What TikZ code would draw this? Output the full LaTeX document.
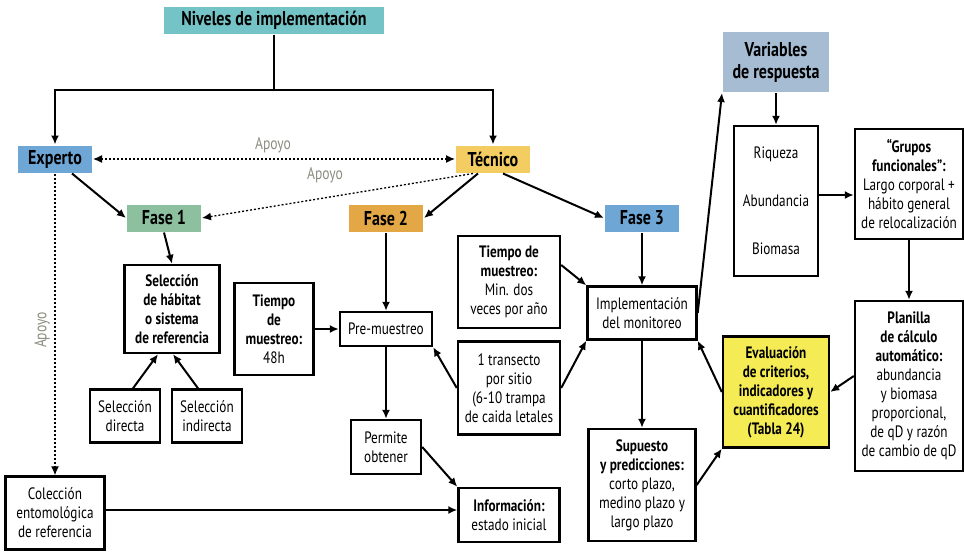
\documentclass[tikz,border=0pt]{standalone}
\usepackage{fontspec}
\setmainfont{PT Sans}[FakeStretch=0.8]
\usetikzlibrary{arrows.meta}
\definecolor{cniv}{HTML}{74C3C6}
\definecolor{cexp}{HTML}{6EA6D5}
\definecolor{ctec}{HTML}{F3CD62}
\definecolor{cfuno}{HTML}{8DC09E}
\definecolor{cfdos}{HTML}{E3A745}
\definecolor{cvar}{HTML}{A5BCD3}
\definecolor{ceva}{HTML}{F4EB55}
\definecolor{capoyo}{HTML}{8C8C80}

\begin{document}
\begin{tikzpicture}[x=1pt,y=-1pt,line width=2pt,>={Latex[length=9pt,width=8pt]},
    punteado/.style={line width=1.3pt,dash pattern=on 2pt off 2pt}]%
\useasboundingbox (0,0) rectangle (964,552);
                    \begin{scope}
                        \tikzstyle{every node}=[inner sep=0pt,align=center,font=\bfseries\fontsize{20}{22}\selectfont];%%
                        \node[fill=cniv,minimum width=220pt,minimum height=27pt] (niv) at (274,20) {Niveles de implementación}; %%
                        \node[fill=cexp,minimum width=74pt,minimum height=27pt] (exp) at (55,159) {Experto}; %%
                        \node[fill=ctec,minimum width=74pt,minimum height=27pt] (tec) at (493,159) {Técnico}; %%
                        \node[fill=cfuno,minimum width=74pt,minimum height=27pt] (f1) at (164,218) {Fase 1}; %%
                        \node[fill=cfdos,minimum width=74pt,minimum height=27pt] (f2) at (386,218) {Fase 2}; %%
                        \node[fill=cexp,minimum width=74pt,minimum height=27pt] (f3) at (642,218) {Fase 3}; %%
                        \node[fill=cvar,minimum width=106pt,minimum height=60pt,font=\bfseries\fontsize{20}{22}\selectfont] (var) at (776,62) {Variables\\de respuesta}; %%
                    \end{scope}
                    \begin{scope}
                        \tikzstyle{every node}=[draw,line width=2.4pt,fill=white,inner sep=0pt,align=center,font=\fontsize{16.5}{19}\selectfont];%%
                        \node[minimum width=84pt,minimum height=150pt] (rab) at (776,201) {Riqueza\\[29pt]Abundancia\\[29pt]Biomasa}; %%
                        \node[minimum width=108pt,minimum height=110pt] (gru) at (909,184) {\textbf{“Grupos}\\\textbf{funcionales”:}\\Largo corporal +\\hábito general\\de relocalización}; %%
                        \node[minimum width=95pt,minimum height=88pt] (sel) at (172,309) {\textbf{Selección}\\\textbf{de hábitat}\\\textbf{o sistema}\\\textbf{de referencia}}; %%
                        \node[minimum width=70pt,minimum height=53pt] (sdir) at (125,416) {Selección\\directa}; %%
                        \node[minimum width=70pt,minimum height=53pt] (sind) at (207,416) {Selección\\indirecta}; %%
                        \node[minimum width=79pt,minimum height=92pt] (t48) at (274,329) {\textbf{Tiempo}\\\textbf{de}\\\textbf{muestreo:}\\48h}; %%
                        \node[minimum width=92pt,minimum height=34pt] (pre) at (386,329) {Pre-muestreo}; %%
                        \node[minimum width=70pt,minimum height=54pt] (per) at (386,447) {Permite\\obtener}; %%
                        \node[minimum width=99pt,minimum height=73pt] (col) at (55,513) {Colección\\entomológica\\de referencia}; %%
                        \node[minimum width=101pt,minimum height=54pt] (inf) at (509,515) {\textbf{Información:}\\estado inicial}; %%
                        \node[minimum width=102pt,minimum height=92pt] (tmin) at (509,282) {\textbf{Tiempo de}\\\textbf{muestreo:}\\Min. dos\\veces por año}; %%
                        \node[minimum width=102pt,minimum height=93pt] (tra) at (509,388) {1 transecto\\por sitio\\(6-10 trampa\\de caida letales}; %%
                        \node[minimum width=109pt,minimum height=53pt] (imp) at (642,313) {Implementación\\del monitoreo}; %%
                        \node[minimum width=107pt,minimum height=112pt] (sup) at (642,485) {\textbf{Supuesto}\\\textbf{y predicciones:}\\corto plazo,\\medino plazo y\\largo plazo}; %%
                        \node[fill=ceva,minimum width=106pt,minimum height=111pt,font=\bfseries\fontsize{16.5}{19}\selectfont] (eva) at (776,392) {Evaluación\\de criterios,\\indicadores y\\cuantificadores\\(Tabla 24)}; %%
                        \node[minimum width=108pt,minimum height=170pt] (pla) at (909,386) {\textbf{Planilla}\\\textbf{de cálculo}\\\textbf{automático:}\\abundancia\\y biomasa\\proporcional,\\de qD y razón\\de cambio de qD}; %%
                    \end{scope}
                    \begin{scope}
                        \tikzstyle{every node}=[text=capoyo,inner sep=0pt,font=\fontsize{17}{19}\selectfont];%%
                        \node (ap1) at (273,145) {Apoyo}; %%
                        \node (ap2) at (325,175) {Apoyo}; %%
                        \node[rotate=90] (ap3) at (42,330) {Apoyo}; %%
                    \end{scope}
                        \draw[->] (niv.south) -- ++(0,55) -| (exp.north); %%
                        \draw[->] (niv.south) -- ++(0,55) -| (tec.north); %%
                        \draw[punteado,<->] (exp.east) -- (tec.west); %%
                        \draw[punteado,->] ([xshift=-20pt]tec.south) -- (f1.east); %%
                        \draw[punteado,->] (exp.south) -- (col.north); %%
                        \draw[->] ([xshift=17pt]exp.south) -- (f1.west); %%
                        \draw[->] ([xshift=-15pt]tec.south) -- (f2.east); %%
                        \draw[->] ([xshift=10pt]tec.south) -- (f3.west); %%
                        \draw[->] (f1.south) -- (sel.north); %%
                        \draw[->] ([xshift=8pt]sdir.north) -- ([xshift=-14pt]sel.south); %%
                        \draw[->] ([xshift=-9pt]sind.north) -- ([xshift=1pt]sel.south); %%
                        \draw[->] (t48.east) -- (pre.west); %%
                        \draw[->] (f2.south) -- (pre.north); %%
                        \draw[->] (pre.south) -- (per.north); %%
                        \draw[->] (tra.west) -- (pre.south east); %%
                        \draw[->] (per.east) -- (inf.north west); %%
                        \draw[->] ([yshift=3pt]col.east) -- ([yshift=3pt]col.east -| inf.west); %%
                        \draw[->] ([yshift=17pt]tmin.east) -- (imp.north west); %%
                        \draw[->] (tra.east) -- (imp.south west); %%
                        \draw[->] (f3.south) -- (imp.north); %%
                        \draw[->] (imp.east) -- (var.south west); %%
                        \draw[->] (imp.south) -- (sup.north); %%
                        \draw[->] (sup.east) -- (eva.south west); %%
                        \draw[->] (eva.west) -- (imp.south east); %%
                        \draw[->] (var.south) -- (rab.north); %%
                        \draw[->] ([yshift=6pt]rab.east) -- ([yshift=6pt]rab.east -| gru.west); %%
                        \draw[->] (gru.south) -- (pla.north); %%
                        \draw[->] ([yshift=10pt]pla.west) -- (eva.east); %%
                    \end{tikzpicture}
\end{document}
